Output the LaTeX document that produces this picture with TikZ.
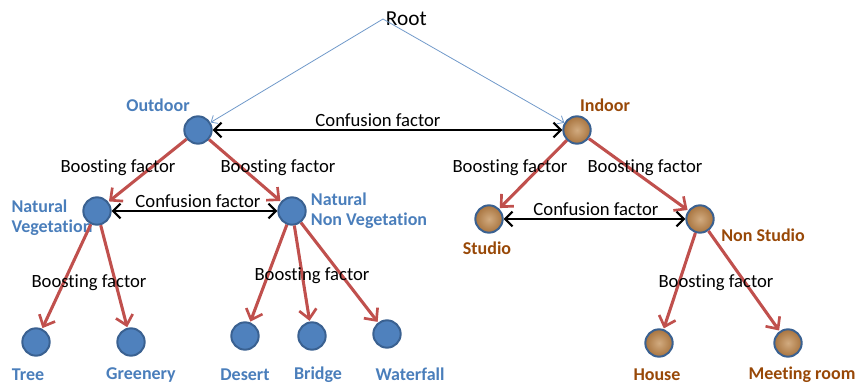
\documentclass[tikz,border=0pt]{standalone}
\usepackage{fontspec}
\setmainfont{Carlito}[Ligatures=NoCommon]
\usepackage{tikz}
\usetikzlibrary{arrows.meta,positioning}
\definecolor{nodeblue}{HTML}{4F81BD}
\definecolor{rimblue}{HTML}{3A6191}
\definecolor{cork}{HTML}{C69660}
\definecolor{corkdark}{HTML}{A8743F}
\definecolor{edgered}{HTML}{C0504D}
\definecolor{txtblue}{HTML}{4A7EBB}
\definecolor{txtbrown}{HTML}{984807}
\tikzset{
  outnode/.style={
    draw=rimblue, fill=nodeblue, line width=1.5pt, circle,
    inner sep=0pt, minimum size=20.5pt
  },
  innode/.style={
    draw=rimblue, inner color=cork!80!white, outer color=corkdark,
    line width=1.5pt, circle, inner sep=0pt, minimum size=20.5pt
  },
  bluelbl/.style={text=txtblue, font=\fontsize{13.5}{15}\selectfont\bfseries,
    inner sep=1pt, align=left},
  brownlbl/.style={text=txtbrown, font=\fontsize{13.5}{15}\selectfont\bfseries,
    inner sep=1pt, align=left},
  factor/.style={text=black, font=\fontsize{14}{16}\selectfont, inner sep=1pt},
  boost/.style={draw=edgered, line width=2.3pt,
    -{Straight Barb[length=7pt,width=13pt,line width=2pt]}, shorten >=0.5pt},
  confuse/.style={draw=black, line width=1.6pt,
    {Straight Barb[length=5.5pt,width=11pt]}-{Straight Barb[length=5.5pt,width=11pt]}},
  rootedge/.style={draw=nodeblue!80, line width=0.6pt,
    -{Straight Barb[length=4pt,width=7pt]}}
}

\begin{document}
\begin{tikzpicture}[x=0.75pt,y=-0.75pt]
  \useasboundingbox (0,0) rectangle (857,385);

  % root and first level
  \node[factor,anchor=west,font=\fontsize{16}{18}\selectfont,inner sep=2pt] (root) at (383,19) {Root};
  \node[outnode] (outdoor) at (198,130) {};
  \node[innode] (indoor) at (577,130) {};
  \node[bluelbl] (outdoorlbl) at (158,105) {Outdoor};
  \node[brownlbl] (indoorlbl) at (605,105) {Indoor};

  % second level
  \node[outnode] (natveg) at (97,211) {};
  \node[outnode] (natnonveg) at (292,211) {};
  \node[innode] (studio) at (489,219) {};
  \node[innode] (nonstudio) at (700,219) {};
  \node[bluelbl] (natveglbl) at (52,218) {Natural\\Vegetation};
  \node[bluelbl] (natnonveglbl) at (369,211) {Natural\\Non Vegetation};
  \node[brownlbl] (studiolbl) at (487,248) {Studio};
  \node[brownlbl] (nonstudiolbl) at (763,235) {Non Studio};

  % leaves
  \node[outnode] (tree) at (36,342) {};
  \node[outnode] (greenery) at (131,342) {};
  \node[outnode] (desert) at (245,336) {};
  \node[outnode] (bridge) at (312,336) {};
  \node[outnode] (waterfall) at (387,334) {};
  \node[innode] (house) at (659,343) {};
  \node[innode] (meeting) at (788,343) {};
  \node[bluelbl] (treelbl) at (28,375) {Tree};
  \node[bluelbl] (greenerylbl) at (141,375) {Greenery};
  \node[bluelbl] (desertlbl) at (245,375) {Desert};
  \node[bluelbl] (bridgelbl) at (318,375) {Bridge};
  \node[bluelbl] (waterfalllbl) at (410,374) {Waterfall};
  \node[brownlbl] (houselbl) at (657,375) {House};
  \node[brownlbl] (meetinglbl) at (802,375) {Meeting room};

  % edges
  \draw[rootedge] (root.west) -- (outdoor);
  \draw[rootedge] (root.west) -- (indoor);
  \foreach \a/\b in {outdoor/natveg, outdoor/natnonveg, indoor/studio,
      indoor/nonstudio, natveg/tree, natveg/greenery, natnonveg/desert,
      natnonveg/bridge, natnonveg/waterfall, nonstudio/house, nonstudio/meeting}
    \draw[boost] (\a) -- (\b);
  \draw[confuse] (outdoor) -- (indoor);
  \draw[confuse] (natveg) -- (natnonveg);
  \draw[confuse] (studio) -- (nonstudio);

  % edge labels
  \node[factor] (cf1) at (378,120) {Confusion factor};
  \node[factor] (cf2) at (198,201) {Confusion factor};
  \node[factor] (cf3) at (596,209) {Confusion factor};
  \node[factor] (bf1) at (118,168) {Boosting factor};
  \node[factor] (bf2) at (278,168) {Boosting factor};
  \node[factor] (bf3) at (510,168) {Boosting factor};
  \node[factor] (bf4) at (645,168) {Boosting factor};
  \node[factor] (bf5) at (89,283) {Boosting factor};
  \node[factor] (bf6) at (312,276) {Boosting factor};
  \node[factor] (bf7) at (716,283) {Boosting factor};
\end{tikzpicture}
\end{document}
